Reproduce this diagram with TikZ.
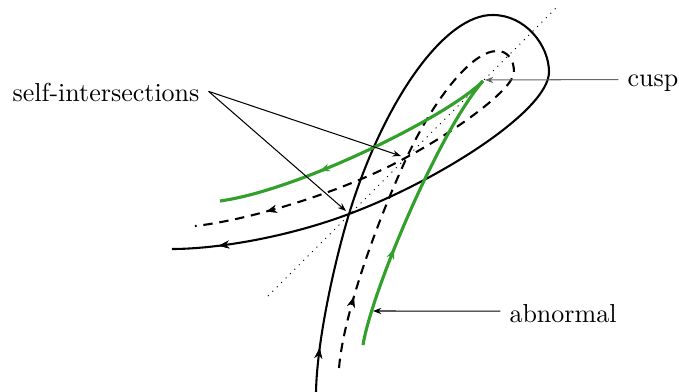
\documentclass[tikz,border=0pt]{standalone}
\usetikzlibrary{arrows.meta,decorations.markings}
\definecolor{grn}{RGB}{51,160,44}
\begin{document}
\begin{tikzpicture}[x=0.3846pt,y=-0.3846pt,
  curve/.style={line width=0.8pt, line join=round},
  dcurve/.style={line width=0.8pt, dash pattern=on 3.6pt off 2.6pt},
  gcurve/.style={grn, line width=1.2pt, line join=round},
  midarrow/.style={postaction={decorate},decoration={markings,
     mark=at position #1 with {\arrow{Stealth[length=4pt,width=3pt]}}}},
  lbl/.style={thin, -{Stealth[length=3.2pt,width=2.4pt]}},
  txt/.style={text height=1.5ex, text depth=.25ex}]
\useasboundingbox (0,0) rectangle (679,392);

% dotted axis
\draw[dotted, thin] (268,296) -- (556,8);

% solid curve
\draw[curve, midarrow=17pt, midarrow=-18pt]
  (316,392) .. controls (317,340) and (335,260) .. (349,214)
  .. controls (384,100) and (445,14) .. (493,15)
  .. controls (525,15) and (549,45) .. (549,72)
  .. controls (549,110) and (440,180) .. (349,214)
  .. controls (285,238) and (215,249) .. (172,249);

% dashed curve
\draw[dcurve, midarrow=28pt, midarrow=-28pt]
  (339,368) .. controls (344,310) and (380,215) .. (407,157)
  .. controls (431,105) and (470,51) .. (497,51)
  .. controls (508,51) and (514,60) .. (514,72)
  .. controls (514,90) and (449,135) .. (407,157)
  .. controls (346,191) and (250,220) .. (195,226);

% green abnormal curve
\draw[gcurve, midarrow=39pt]
  (363,345) .. controls (372,290) and (440,130) .. (483,81);
\draw[gcurve, midarrow=-40pt]
  (483,81) .. controls (450,115) and (300,190) .. (220,201);

% labels
\node[txt] (sl) at (106,94.5) {self-intersections};
\node[txt] (cl) at (653,79) {cusp};
\node[txt] (al) at (563,315) {abnormal};

\coordinate (x1) at (346,211);
\coordinate (x2) at (401,156);
\coordinate (cp) at (485,80);
\coordinate (ab) at (373,311);

\draw[lbl] ([yshift=1.2pt]sl.east) -- (x1);
\draw[lbl] ([yshift=1.2pt]sl.east) -- (x2);
\draw[lbl, gray!80!black] ([yshift=-0.2pt]cl.west) -- (cp);
\draw[lbl] ([yshift=1.5pt]al.west) -- (ab);
\end{tikzpicture}
\end{document}
